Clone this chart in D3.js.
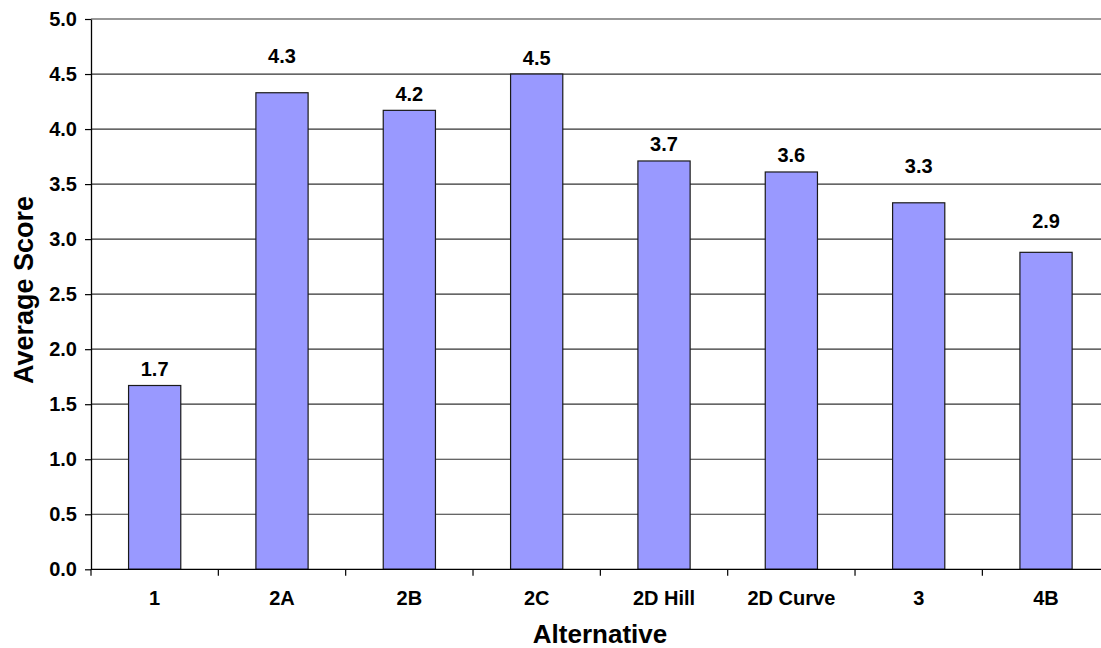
<!DOCTYPE html>
<html>
<head>
<meta charset="utf-8">
<script src="https://cdn.jsdelivr.net/npm/d3@7"></script>
<style>
  html, body { margin: 0; padding: 0; background: #fff; }
  svg { display: block; font-family: "Liberation Sans", Arial, sans-serif; font-weight: bold; }
</style>
</head>
<body>
<svg id="chart" width="1101" height="648"></svg>
<script>
const categories = ["1", "2A", "2B", "2C", "2D Hill", "2D Curve", "3", "4B"];
const scores = [1.67, 4.33, 4.17, 4.50, 3.71, 3.61, 3.33, 2.88];
const scoreLabels = ["1.7", "4.3", "4.2", "4.5", "3.7", "3.6", "3.3", "2.9"];
const yTicks = [0, 0.5, 1, 1.5, 2, 2.5, 3, 3.5, 4, 4.5, 5];
const yTitle = "Average Score";
const xTitle = "Alternative";

(function () {
const svg = d3.select("#chart");
const mLeft = 91, mRight = 1109.7, mTop = 19, mBottom = 569.3;

const x = d3.scaleBand().domain(categories).range([mLeft, mRight])
  .paddingInner(0.59).paddingOuter(0.295);
const xStep = d3.scaleBand().domain(categories).range([mLeft, mRight]).padding(0);
const y = d3.scaleLinear().domain([0, 5]).range([mBottom, mTop]);

// gridlines
svg.append("g").selectAll("line").data(yTicks.filter(d => d > 0)).join("line")
  .attr("x1", mLeft).attr("x2", mRight)
  .attr("y1", d => y(d)).attr("y2", d => y(d))
  .attr("stroke", "#333").attr("stroke-width", 1.2);

// bars
svg.append("g").selectAll("rect").data(scores).join("rect")
  .attr("x", (d, i) => x(categories[i]))
  .attr("y", d => y(d))
  .attr("width", x.bandwidth())
  .attr("height", d => y(0) - y(d))
  .attr("fill", "#9999FF")
  .attr("stroke", "#1a1a1a").attr("stroke-width", 1.2);

// y axis
const yAxis = d3.axisLeft(y).tickValues(yTicks).tickFormat(d3.format(".1f"))
  .tickSizeInner(6).tickSizeOuter(0).tickPadding(8);
const gy = svg.append("g").attr("transform", `translate(${mLeft},0)`).call(yAxis);
gy.select(".domain").attr("stroke", "#000").attr("stroke-width", 1.3);
gy.selectAll(".tick line").attr("stroke", "#000").attr("stroke-width", 1.2);
gy.selectAll(".tick text").attr("font-size", 20).attr("font-weight", "bold")
  .attr("font-family", "Liberation Sans, Arial, sans-serif").attr("fill", "#000");

// x axis line
svg.append("line").attr("x1", mLeft).attr("x2", mRight)
  .attr("y1", mBottom).attr("y2", mBottom).attr("stroke", "#000").attr("stroke-width", 1.3);
// x ticks between categories
const boundaries = categories.map(c => xStep(c)).concat([mRight]);
svg.append("g").selectAll("line").data(boundaries).join("line")
  .attr("x1", d => d).attr("x2", d => d)
  .attr("y1", mBottom).attr("y2", mBottom + 6.5)
  .attr("stroke", "#000").attr("stroke-width", 1.2);
// x labels
svg.append("g").selectAll("text").data(categories).join("text")
  .attr("x", d => x(d) + x.bandwidth() / 2)
  .attr("y", 605)
  .attr("text-anchor", "middle").attr("font-size", 20).attr("fill", "#000")
  .text(d => d);

// value labels (lifted above a gridline if they would cross it)
function labelBaseline(v) {
  let b = y(v) - 9.5;
  yTicks.forEach(t => {
    const g = y(t);
    if (t > 0 && g > b - 15 && g < b + 3) b = g - 11;
  });
  return b;
}
svg.append("g").selectAll("text").data(scores).join("text")
  .attr("x", (d, i) => x(categories[i]) + x.bandwidth() / 2)
  .attr("y", d => labelBaseline(d))
  .attr("text-anchor", "middle").attr("font-size", 20).attr("fill", "#000")
  .text((d, i) => scoreLabels[i]);

// axis titles
svg.append("text").attr("x", 600).attr("y", 643)
  .attr("text-anchor", "middle").attr("font-size", 26).attr("fill", "#000")
  .text(xTitle);
svg.append("text")
  .attr("transform", `translate(33,290) rotate(-90)`)
  .attr("text-anchor", "middle").attr("font-size", 27).attr("fill", "#000")
  .text(yTitle);
})();
</script>
</body>
</html>
